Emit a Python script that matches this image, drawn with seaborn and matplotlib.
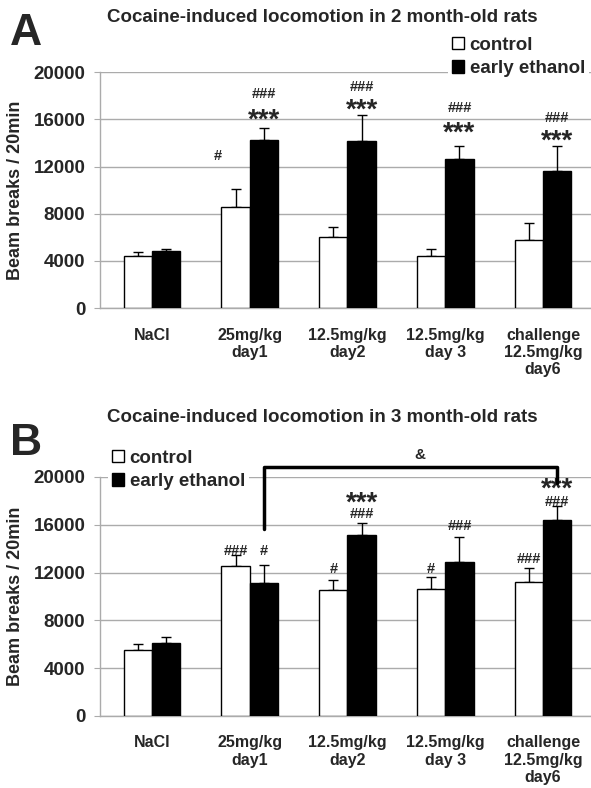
import numpy as np
import pandas as pd
import matplotlib
matplotlib.use("Agg")
import matplotlib.pyplot as plt
import seaborn as sns

# conditions (x categories) and groups
conditions = ["NaCl", "25mg/kg\nday1", "12.5mg/kg\nday2", "12.5mg/kg\nday 3", "challenge\n12.5mg/kg\nday6"]
groups = ["control", "early ethanol"]

# panel A: 2 month-old rats (mean, upper SEM)
ctrl_A = [4400, 8600, 6050, 4450, 5800]
ctrl_A_err = [350, 1500, 850, 600, 1450]
eth_A = [4800, 14250, 14200, 12650, 11650]
eth_A_err = [250, 1000, 2150, 1100, 2100]

# panel B: 3 month-old rats
ctrl_B = [5500, 12550, 10550, 10630, 11220]
ctrl_B_err = [520, 930, 830, 1000, 1170]
eth_B = [6100, 11130, 15150, 12890, 16400]
eth_B_err = [500, 1500, 1000, 2090, 1180]

# significance marks: (condition index, group index, text, centre value)
marks_A = [
    (1, 0, "#", 13000),
    (1, 1, "***", 16600), (1, 1, "###", 18250),
    (2, 1, "***", 17450), (2, 1, "###", 18900),
    (3, 1, "***", 15450), (3, 1, "###", 17050),
    (4, 1, "***", 14850), (4, 1, "###", 16250),
]
marks_B = [
    (1, 0, "###", 13950), (1, 1, "#", 13950),
    (2, 0, "#", 12400), (2, 1, "###", 17000), (2, 1, "***", 18450),
    (3, 0, "#", 12450), (3, 1, "###", 16000),
    (4, 0, "###", 13300), (4, 1, "###", 18000), (4, 1, "***", 19600),
]
# bracket in B: left foot, top, right foot
bracket_B = [15650, 20850, 19500]
bracket_label = "&"
bracket_label_y = 21850

titles = ["Cocaine-induced locomotion in 2 month-old rats",
          "Cocaine-induced locomotion in 3 month-old rats"]
letters = ["A", "B"]
yticks = [0, 4000, 8000, 12000, 16000, 20000]

sns.set_style("white")
plt.rcParams['font.family'] = ['Liberation Sans', 'DejaVu Sans']
plt.rcParams['font.weight'] = 'bold'

fig = plt.figure(figsize=(5.91, 7.88), dpi=100)
ax_A = fig.add_axes([0.169, 0.609, 0.831, 0.2995])
ax_B = fig.add_axes([0.169, 0.0914, 0.831, 0.3033])

GRID = "#ababab"


def draw_panel(ax, ctrl, ctrl_err, eth, eth_err, marks, legend_anchor):
    df = pd.DataFrame({
        "cond": conditions * 2,
        "group": [groups[0]] * 5 + [groups[1]] * 5,
        "value": ctrl + eth,
    })
    sns.barplot(data=df, x="cond", y="value", hue="group", order=conditions,
                hue_order=groups, palette={"control": "white", "early ethanol": "black"},
                edgecolor="black", linewidth=1, width=0.58, gap=0, errorbar=None,
                ax=ax, zorder=3)

    # upward-only error bars centred on each bar
    centers = []
    for cont, vals, errs in zip(ax.containers, [ctrl, eth], [ctrl_err, eth_err]):
        xs = [b.get_x() + b.get_width() / 2 for b in cont]
        centers.append(xs)
        ax.errorbar(xs, vals, yerr=[np.zeros(len(errs)), errs], fmt="none",
                    ecolor="black", elinewidth=1, capsize=3.5, capthick=1, zorder=2)

    for ci, gi, txt, val in marks:
        x = centers[gi][ci]
        if txt == "***":
            ax.annotate(txt, (x, val), xytext=(0, -11), textcoords="offset points",
                        ha="center", va="baseline", fontsize=20, fontweight="bold",
                        annotation_clip=False)
        else:
            dx = -13 if (ax is ax_A and ci == 1 and gi == 0) else 0
            ax.annotate(txt, (x, val), xytext=(dx, -4), textcoords="offset points",
                        ha="center", va="baseline", fontsize=10.5, fontweight="bold",
                        annotation_clip=False)

    ax.set_xlim(-0.532, 4.49)
    ax.set_ylim(0, 20000)
    ax.set_yticks(yticks)
    ax.set_yticklabels([str(t) for t in yticks], fontsize=13.5, fontweight="bold")
    ax.yaxis.grid(True, color=GRID, linewidth=1)
    ax.set_axisbelow(True)
    ax.set_xticks(range(len(conditions)))
    ax.set_xticklabels(conditions, fontsize=11.5, fontweight="bold", linespacing=1.2)
    ax.set_xticks([0.5, 1.5, 2.5, 3.5], minor=True)
    ax.tick_params(axis="x", which="major", length=0, pad=14)
    ax.tick_params(axis="x", which="minor", length=4, color=GRID, direction="out")
    ax.tick_params(axis="y", length=4, color=GRID, left=True, pad=6.5)
    ax.set_xlabel("")
    ax.set_ylabel("Beam breaks / 20min", fontsize=13, fontweight="bold", labelpad=7)
    for side in ["top", "right"]:
        ax.spines[side].set_visible(False)
    for side in ["left", "bottom"]:
        ax.spines[side].set_color(GRID)
        ax.spines[side].set_linewidth(1)

    handles, labels = ax.get_legend_handles_labels()
    leg = ax.legend(handles, labels, loc="upper left", bbox_to_anchor=legend_anchor,
                    bbox_transform=fig.transFigure, frameon=True, framealpha=1,
                    facecolor="white", edgecolor="none", fontsize=13.5,
                    handlelength=0.65, handleheight=0.65, handletextpad=0.3,
                    labelspacing=0.35, borderpad=0.2, borderaxespad=0)
    leg.set_zorder(5)
    return centers


draw_panel(ax_A, ctrl_A, ctrl_A_err, eth_A, eth_A_err, marks_A, (448 / 591, 1 - 33 / 788))
centers_B = draw_panel(ax_B, ctrl_B, ctrl_B_err, eth_B, eth_B_err, marks_B, (108 / 591, 1 - 446 / 788))

# bracket between day1 and challenge early-ethanol bars in B
x1, x2 = centers_B[1][1], centers_B[1][4]
ax_B.plot([x1, x1, x2, x2], [bracket_B[0], bracket_B[1], bracket_B[1], bracket_B[2]],
          color="black", linewidth=2.5, clip_on=False, zorder=6)
ax_B.annotate(bracket_label, ((x1 + x2) / 2, bracket_label_y), xytext=(7, 0),
              textcoords="offset points", ha="center", va="center",
              fontsize=11, fontweight="bold", annotation_clip=False)

# titles and panel letters
fig.text(322 / 591, 1 - 17 / 788, titles[0], ha="center", va="center", fontsize=13.5, fontweight="bold")
fig.text(322 / 591, 1 - 418 / 788, titles[1], ha="center", va="center", fontsize=13.5, fontweight="bold")
fig.text(10 / 591, 1 - 45 / 788, letters[0], ha="left", va="baseline", fontsize=32, fontweight="bold")
fig.text(10 / 591, 1 - 455 / 788, letters[1], ha="left", va="baseline", fontsize=32, fontweight="bold")

fig.savefig("out.png", dpi=100)
